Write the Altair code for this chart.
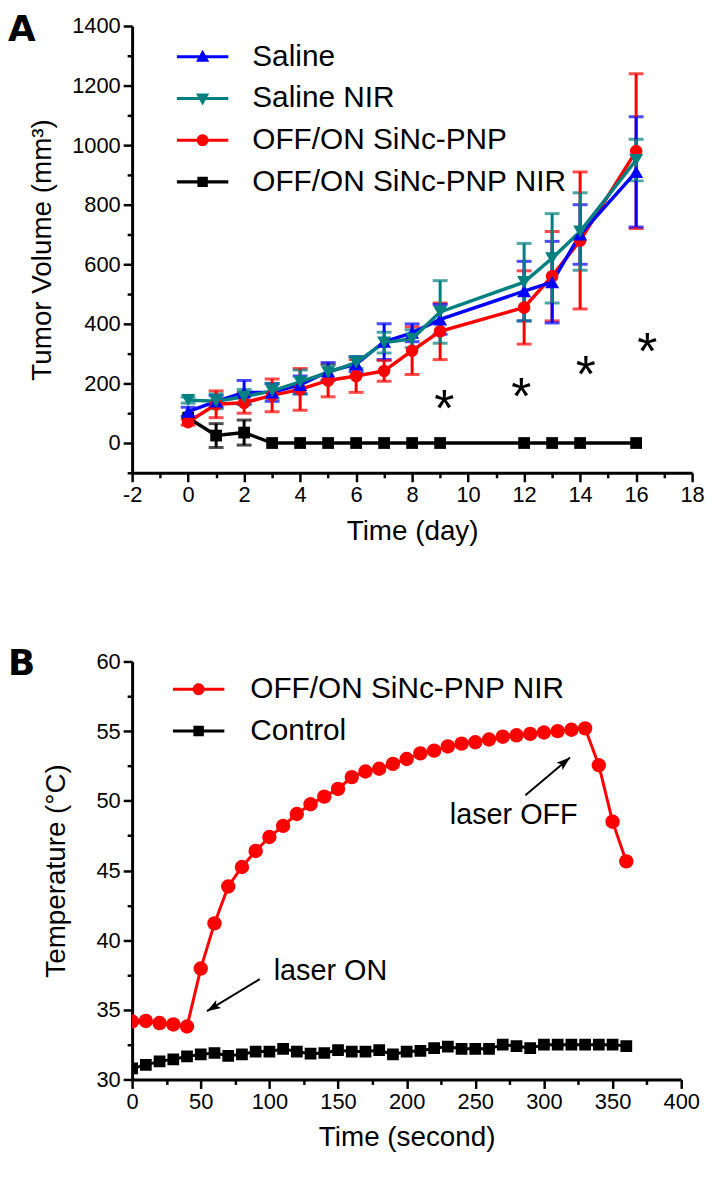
import math
import altair as alt
import pandas as pd

FONT = "Liberation Sans"

# ---------------- Panel A : tumor volume ----------------
days = [0, 1, 2, 3, 4, 5, 6, 7, 8, 9, 12, 13, 14, 16]
series_a = ["Saline", "Saline NIR", "OFF/ON SiNc-PNP", "OFF/ON SiNc-PNP NIR"]
colors_a = ["#0000ff", "#008080", "#ff0000", "#000000"]

saline_mean = [105, 140, 170, 170, 195, 240, 265, 340, 370, 415, 510, 540, 700, 910]
saline_sd = [15, 20, 40, 30, 30, 30, 25, 60, 30, 50, 100, 137, 100, 185]
saline_nir_mean = [144, 140, 155, 175, 205, 237, 270, 337, 350, 440, 540, 620, 710, 950]
saline_nir_sd = [10, 25, 25, 25, 40, 25, 20, 35, 30, 105, 130, 150, 130, 70]
pnp_mean = [70, 130, 135, 160, 180, 210, 225, 242, 310, 375, 455, 560, 680, 980]
pnp_sd = [10, 45, 35, 55, 70, 55, 55, 35, 80, 95, 123, 150, 230, 260]
pnp_nir_mean = [85, 25, 35, 0, 0, 0, 0, 0, 0, 0, 0, 0, 0, 0]
pnp_nir_sd = [0, 40, 42, 0, 0, 0, 0, 0, 0, 0, 0, 0, 0, 0]

star_days = [9.15, 11.9, 14.2, 16.4]
star_values = [147, 187, 260, 337]
star_text = ["*", "*", "*", "*"]

# ---------------- Panel B : temperature ----------------
seconds = list(range(0, 361, 10))
series_b = ["OFF/ON SiNc-PNP NIR", "Control"]
colors_b = ["#ff0000", "#000000"]
pnp_nir_temp = [34.16, 34.2, 34.05, 33.95, 33.8, 37.96, 41.2, 43.85, 45.25, 46.4,
                47.4, 48.2, 49.05, 49.75, 50.3, 50.85, 51.7, 52.1, 52.3, 52.65,
                53.0, 53.4, 53.6, 53.9, 54.1, 54.2, 54.4, 54.6, 54.7, 54.8,
                54.9, 55.0, 55.1, 55.2, 52.55, 48.5, 45.65]
control_temp = [30.8, 31.05, 31.3, 31.45, 31.65, 31.8, 31.9, 31.7, 31.8, 32.0,
                32.0, 32.2, 32.0, 31.85, 31.9, 32.1, 32.0, 32.0, 32.1, 31.8,
                32.0, 32.05, 32.25, 32.35, 32.2, 32.2, 32.2, 32.5, 32.4, 32.25,
                32.5, 32.5, 32.5, 32.5, 32.5, 32.5, 32.4]

note_text = ["laser ON", "laser OFF"]
note_x = [144.5, 278.0]
note_y = [37.8, 49.0]
arrow_x1 = [93.0, 286.5]
arrow_y1 = [37.2, 50.4]
arrow_x2 = [54.5, 319.0]
arrow_y2 = [34.9, 53.1]

# ---------------- sizes / styles ----------------
WA, HA = 564, 450
WB, HB = 553, 421

LINE = "M-3.7,-0.22H3.7V0.22H-3.7Z"
P_TRI_UP = LINE + "M0,-1.0L0.95,0.72H-0.95Z"
P_TRI_DOWN = LINE + "M-0.95,-0.72H0.95L0,1.0Z"
P_CIRCLE = LINE + "M-0.85,0A0.85,0.85 0 1,1 0.85,0A0.85,0.85 0 1,1 -0.85,0Z"
P_SQUARE = LINE + "M-0.75,-0.75H0.75V0.75H-0.75Z"
ARROW = "M0,0L0.55,1.6L0,1.25L-0.55,1.6Z"

# ---------------- tables ----------------
rows = []
for name, m, s in [("OFF/ON SiNc-PNP NIR", pnp_nir_mean, pnp_nir_sd),
                   ("OFF/ON SiNc-PNP", pnp_mean, pnp_sd),
                   ("Saline", saline_mean, saline_sd),
                   ("Saline NIR", saline_nir_mean, saline_nir_sd)]:
    for d, mv, sv in zip(days, m, s):
        rows.append({"series": name, "day": d, "mean": mv, "lo": mv - sv, "hi": mv + sv, "sd": sv})
df_a = pd.DataFrame(rows)
df_err = df_a[df_a["sd"] > 0]
df_star = pd.DataFrame({"day": star_days, "val": star_values, "t": star_text})

rows = []
for name, vals in [("Control", control_temp), ("OFF/ON SiNc-PNP NIR", pnp_nir_temp)]:
    for t, v in zip(seconds, vals):
        rows.append({"series": name, "sec": t, "temp": v})
df_b = pd.DataFrame(rows)
df_note = pd.DataFrame({"label": note_text, "nx": note_x, "ny": note_y})
px_s = WB / 400.0
px_t = HB / 30.0
angles = [math.degrees(math.atan2((b - a) * px_s, (d - c) * px_t)) % 360
          for a, b, c, d in zip(arrow_x1, arrow_x2, arrow_y1, arrow_y2)]
df_arrow = pd.DataFrame({"x1": arrow_x1, "y1": arrow_y1, "x2": arrow_x2, "y2": arrow_y2, "ang": angles})


def legend(x, y, off):
    return alt.Legend(orient="none", legendX=x, legendY=y, title=None, direction="vertical",
                      labelFont=FONT, labelFontSize=30, labelColor="black", labelLimit=600,
                      labelOffset=off, rowPadding=12, symbolSize=196, symbolStrokeWidth=0,
                      symbolOpacity=1)


# ---------------- Panel A ----------------
x_scale_a = alt.Scale(domain=[-2, 18], nice=False, zero=False)
y_scale_a = alt.Scale(domain=[-100, 1400], nice=False, zero=False)
x_axis_a = alt.Axis(values=list(range(-2, 19)),
                    labelExpr="datum.value % 2 === 0 ? '' + datum.value : ''",
                    tickSize={"condition": {"test": "datum.value % 2 === 0", "value": 9}, "value": 5},
                    titlePadding=12)
y_axis_a = alt.Axis(values=list(range(-100, 1401, 100)),
                    labelExpr="datum.value % 200 === 0 ? '' + datum.value : ''",
                    tickSize={"condition": {"test": "datum.value % 200 === 0", "value": 9}, "value": 5},
                    titlePadding=15)
# mark colours (legend drawn separately from the fill/shape scales below)
color_scale_a = alt.Scale(domain=series_a[::-1], range=colors_a[::-1])


def xa(field):
    return alt.X(f"{field}:Q", scale=x_scale_a, axis=x_axis_a, title="Time (day)")


def ya(field):
    return alt.Y(f"{field}:Q", scale=y_scale_a, axis=y_axis_a, title="Tumor Volume (mm³)")


def col_a():
    return alt.Color("series:N", scale=color_scale_a, legend=None)


err_a = alt.Chart(df_err).mark_errorbar(ticks=True, size=15, thickness=3).encode(
    x=xa("day"), y=ya("lo"), y2=alt.Y2("hi:Q"), color=col_a())
line_a = alt.Chart(df_a).mark_line(strokeWidth=3.5).encode(x=xa("day"), y=ya("mean"), color=col_a())
shapes_a = {"Saline": ("triangle-up", 200), "Saline NIR": ("triangle-down", 200),
            "OFF/ON SiNc-PNP": ("circle", 160), "OFF/ON SiNc-PNP NIR": ("square", 140)}
points_a = [
    alt.Chart(df_a).transform_filter(alt.datum.series == s).mark_point(
        filled=True, opacity=1, shape=shapes_a[s][0], size=shapes_a[s][1]
    ).encode(x=xa("day"), y=ya("mean"), color=col_a())
    for s in ["OFF/ON SiNc-PNP NIR", "OFF/ON SiNc-PNP", "Saline", "Saline NIR"]
]
stars = alt.Chart(df_star).mark_text(font=FONT, fontSize=52, baseline="alphabetic", dy=27,
                                     color="black").encode(x=xa("day"), y=ya("val"), text="t:N")
legend_a = alt.Chart(df_a).transform_filter("false").mark_point(filled=True, size=196, opacity=1).encode(
    x=xa("day"), y=ya("mean"),
    fill=alt.Fill("series:N", scale=alt.Scale(domain=series_a, range=colors_a),
                  legend=legend(56, 16, 35)),
    shape=alt.Shape("series:N", scale=alt.Scale(domain=series_a,
                                                range=[P_TRI_UP, P_TRI_DOWN, P_CIRCLE, P_SQUARE]),
                    legend=legend(56, 16, 35)))
letter_a = alt.Chart(pd.DataFrame({"t": ["A"]})).mark_text(
    font="DejaVu Sans", fontWeight="bold", fontSize=36, align="left", baseline="middle", color="black"
).encode(text="t:N", x=alt.value(-125), y=alt.value(4))

panel_a = alt.layer(err_a, line_a, *points_a, stars, legend_a, letter_a).properties(width=WA, height=HA)

# ---------------- Panel B ----------------
x_scale_b = alt.Scale(domain=[0, 400], nice=False, zero=False)
y_scale_b = alt.Scale(domain=[30, 60], nice=False, zero=False)
x_axis_b = alt.Axis(values=list(range(0, 401, 25)),
                    labelExpr="datum.value % 50 === 0 ? '' + datum.value : ''",
                    tickSize={"condition": {"test": "datum.value % 50 === 0", "value": 9}, "value": 5},
                    titlePadding=12)
y_axis_b = alt.Axis(values=[30 + 2.5 * i for i in range(13)],
                    labelExpr="datum.value % 5 === 0 ? '' + datum.value : ''",
                    tickSize={"condition": {"test": "datum.value % 5 === 0", "value": 9}, "value": 5},
                    titlePadding=26)
color_scale_b = alt.Scale(domain=series_b[::-1], range=colors_b[::-1])


def xb(field):
    return alt.X(f"{field}:Q", scale=x_scale_b, axis=x_axis_b, title="Time (second)")


def yb(field):
    return alt.Y(f"{field}:Q", scale=y_scale_b, axis=y_axis_b, title="Temperature (°C)")


def col_b():
    return alt.Color("series:N", scale=color_scale_b, legend=None)


line_b = alt.Chart(df_b).mark_line(strokeWidth=3, clip=True).encode(
    x=xb("sec"), y=yb("temp"), color=col_b())
pts_ctrl = alt.Chart(df_b).transform_filter(alt.datum.series == "Control").mark_point(
    filled=True, opacity=1, shape="square", size=140, clip=True
).encode(x=xb("sec"), y=yb("temp"), color=col_b())
pts_pnp = alt.Chart(df_b).transform_filter(alt.datum.series == "OFF/ON SiNc-PNP NIR").mark_point(
    filled=True, opacity=1, shape="circle", size=210, clip=True
).encode(x=xb("sec"), y=yb("temp"), color=col_b())
notes = alt.Chart(df_note).mark_text(font=FONT, fontSize=29, color="black", align="center",
                                     baseline="middle").encode(x=xb("nx"), y=yb("ny"), text="label:N")
arrow_line = alt.Chart(df_arrow).mark_rule(strokeWidth=2, color="black").encode(
    x=xb("x1"), y=yb("y1"), x2=alt.X2("x2:Q"), y2=alt.Y2("y2:Q"))
arrow_head = alt.Chart(df_arrow).mark_point(filled=True, opacity=1, shape=ARROW, size=300,
                                            color="black").encode(
    x=xb("x2"), y=yb("y2"), angle=alt.Angle("ang:Q", scale=None))
legend_b = alt.Chart(df_b).transform_filter("false").mark_point(filled=True, size=196, opacity=1).encode(
    x=xb("sec"), y=yb("temp"),
    fill=alt.Fill("series:N", scale=alt.Scale(domain=series_b, range=colors_b),
                  legend=legend(52, 13, 37)),
    shape=alt.Shape("series:N", scale=alt.Scale(domain=series_b, range=[P_CIRCLE, P_SQUARE]),
                    legend=legend(52, 13, 37)))
letter_b = alt.Chart(pd.DataFrame({"t": ["B"]})).mark_text(
    font="DejaVu Sans", fontWeight="bold", fontSize=36, align="left", baseline="middle", color="black"
).encode(text="t:N", x=alt.value(-125), y=alt.value(3))

panel_b = alt.layer(line_b, pts_ctrl, pts_pnp, arrow_line, arrow_head, notes, legend_b, letter_b
                    ).properties(width=WB, height=HB)

chart = alt.vconcat(panel_a, panel_b, spacing=190, bounds="flush").resolve_scale(
    color="independent", shape="independent", fill="independent"
).resolve_legend(
    color="independent", shape="independent", fill="independent"
).properties(
    padding={"left": 0, "top": 0, "right": 5, "bottom": 5}
).configure_axis(
    domainColor="black", domainWidth=3, tickColor="black", tickWidth=2.5,
    labelFont=FONT, labelFontSize=22, labelColor="black", labelPadding=3,
    titleFont=FONT, titleFontSize=28, titleFontWeight="normal", titleColor="black",
    grid=False, labelFlush=False, labelOverlap=False
).configure_view(stroke=None)

chart.save("out.html", embed_options={"renderer": "svg", "actions": False})
